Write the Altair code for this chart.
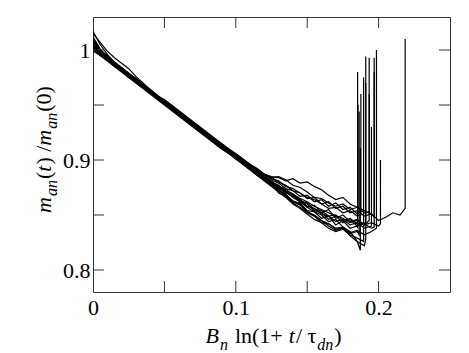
import altair as alt
import pandas as pd

# ---------------- data ----------------
X_GRID = [0.000, 0.005, 0.010, 0.015, 0.020, 0.025, 0.030, 0.035, 0.040, 0.045,
          0.050, 0.055, 0.060, 0.065, 0.070, 0.075, 0.080, 0.085, 0.090, 0.095,
          0.100, 0.105, 0.110, 0.115, 0.120, 0.125, 0.130, 0.135, 0.140, 0.145,
          0.150, 0.155, 0.160, 0.165, 0.170, 0.175, 0.180, 0.185, 0.190, 0.195,
          0.200, 0.205, 0.210, 0.215]

LINE_1 = [1.004, 0.998, 0.993, 0.986, 0.983, 0.976, 0.973, 0.966, 0.963, 0.956,
          0.953, 0.946, 0.943, 0.936, 0.933, 0.926, 0.923, 0.916, 0.913, 0.907,
          0.904, 0.897, 0.894, 0.888, 0.885, 0.878, 0.873, 0.869, 0.862, 0.861,
          0.854, 0.853, 0.847, 0.849, 0.841, 0.845, 0.838, 0.840]
LINE_2 = [1.000, 0.996, 0.991, 0.987, 0.981, 0.978, 0.971, 0.968, 0.961, 0.958,
          0.951, 0.948, 0.941, 0.938, 0.931, 0.928, 0.921, 0.918, 0.911, 0.909,
          0.902, 0.899, 0.892, 0.890, 0.883, 0.879, 0.870, 0.867, 0.861, 0.857,
          0.852, 0.849, 0.843, 0.842, 0.837, 0.838, 0.833, 0.835]
LINE_3 = [1.008, 0.999, 0.993, 0.988, 0.982, 0.977, 0.973, 0.967, 0.962, 0.958,
          0.952, 0.947, 0.943, 0.937, 0.932, 0.928, 0.922, 0.917, 0.913, 0.908,
          0.903, 0.898, 0.894, 0.889, 0.884, 0.880, 0.874, 0.871, 0.866, 0.862,
          0.857, 0.853, 0.850, 0.844, 0.846, 0.839, 0.835, 0.826]
LINE_4 = [1.012, 1.001, 0.994, 0.988, 0.983, 0.977, 0.972, 0.968, 0.962, 0.957,
          0.953, 0.947, 0.942, 0.938, 0.932, 0.927, 0.923, 0.917, 0.912, 0.909,
          0.903, 0.898, 0.894, 0.888, 0.885, 0.881, 0.876, 0.873, 0.869, 0.863,
          0.861, 0.855, 0.854, 0.849, 0.850, 0.845, 0.847, 0.842, 0.843]
LINE_5 = [1.017, 1.005, 0.996, 0.989, 0.983, 0.978, 0.973, 0.968, 0.963, 0.958,
          0.953, 0.948, 0.943, 0.938, 0.933, 0.928, 0.923, 0.918, 0.914, 0.909,
          0.904, 0.900, 0.895, 0.891, 0.887, 0.884, 0.885, 0.882, 0.877, 0.875,
          0.871, 0.866, 0.865, 0.861, 0.858, 0.860, 0.855, 0.857, 0.852]
LINE_6 = [1.002, 0.996, 0.992, 0.986, 0.982, 0.976, 0.972, 0.966, 0.962, 0.957,
          0.951, 0.947, 0.941, 0.937, 0.931, 0.927, 0.921, 0.917, 0.911, 0.907,
          0.902, 0.897, 0.893, 0.888, 0.883, 0.879, 0.875, 0.870, 0.868, 0.862,
          0.860, 0.854, 0.852, 0.846, 0.849, 0.843, 0.846, 0.840, 0.842, 0.838]
LINE_7 = [1.005, 0.998, 0.991, 0.987, 0.981, 0.976, 0.971, 0.967, 0.961, 0.956,
          0.951, 0.946, 0.941, 0.936, 0.931, 0.926, 0.921, 0.916, 0.911, 0.906,
          0.902, 0.897, 0.892, 0.887, 0.882, 0.878, 0.873, 0.868, 0.863, 0.860,
          0.853, 0.850, 0.845, 0.842, 0.838, 0.839, 0.834, 0.836, 0.832, 0.835]
LINE_8 = [1.001, 0.997, 0.991, 0.988, 0.981, 0.978, 0.972, 0.968, 0.962, 0.958,
          0.952, 0.948, 0.942, 0.938, 0.932, 0.928, 0.922, 0.918, 0.913, 0.908,
          0.904, 0.899, 0.894, 0.890, 0.885, 0.880, 0.877, 0.872, 0.869, 0.865,
          0.862, 0.858, 0.855, 0.852, 0.849, 0.847, 0.843, 0.845, 0.841, 0.843,
          0.840]
LINE_9 = [1.003, 0.997, 0.993, 0.986, 0.983, 0.977, 0.974, 0.967, 0.964, 0.958,
          0.955, 0.950, 0.945, 0.940, 0.935, 0.930, 0.925, 0.920, 0.915, 0.910,
          0.906, 0.901, 0.896, 0.892, 0.887, 0.885, 0.884, 0.881, 0.883, 0.879,
          0.880, 0.876, 0.873, 0.868, 0.864, 0.866, 0.860, 0.857, 0.854, 0.851,
          0.845, 0.848, 0.852, 0.850]
LINE_10 = [1.010, 1.000, 0.994, 0.989, 0.984, 0.979, 0.974, 0.969, 0.964, 0.959,
           0.954, 0.949, 0.944, 0.939, 0.934, 0.929, 0.924, 0.919, 0.914, 0.910,
           0.905, 0.900, 0.895, 0.891, 0.887, 0.883, 0.881, 0.876, 0.874, 0.870,
           0.866, 0.864, 0.860, 0.856, 0.857, 0.852, 0.854, 0.849]
LINE_11 = [0.999, 0.995, 0.990, 0.985, 0.980, 0.975, 0.970, 0.965, 0.960, 0.955,
           0.950, 0.945, 0.940, 0.935, 0.930, 0.925, 0.920, 0.915, 0.910, 0.906,
           0.901, 0.896, 0.891, 0.886, 0.881, 0.876, 0.871, 0.866, 0.860, 0.856,
           0.851, 0.846, 0.843, 0.838, 0.835, 0.837, 0.832, 0.829]
LINE_12 = [1.015, 1.007, 0.999, 0.993, 0.988, 0.983, 0.976, 0.970, 0.964, 0.958,
           0.953, 0.948, 0.943, 0.938, 0.933, 0.928, 0.923, 0.918, 0.913, 0.908,
           0.903, 0.898, 0.893, 0.888, 0.884, 0.879, 0.875, 0.871, 0.867, 0.864,
           0.858, 0.856, 0.851, 0.849, 0.844, 0.846, 0.841, 0.843, 0.838]
LINE_13 = [1.006, 0.999, 0.994, 0.987, 0.983, 0.977, 0.973, 0.967, 0.963, 0.957,
           0.953, 0.947, 0.943, 0.937, 0.933, 0.927, 0.923, 0.918, 0.913, 0.909,
           0.904, 0.899, 0.895, 0.890, 0.886, 0.882, 0.879, 0.874, 0.872, 0.867,
           0.868, 0.862, 0.864, 0.858, 0.861, 0.855, 0.857, 0.851]
LINE_14 = [1.001, 0.995, 0.991, 0.985, 0.981, 0.975, 0.971, 0.966, 0.961, 0.956,
           0.951, 0.946, 0.941, 0.936, 0.931, 0.926, 0.921, 0.916, 0.911, 0.907,
           0.901, 0.897, 0.892, 0.886, 0.882, 0.877, 0.872, 0.868, 0.862, 0.859,
           0.853, 0.849, 0.845, 0.840, 0.836, 0.838, 0.831, 0.826, 0.822]
LINE_15 = [1.003, 0.996, 0.993, 0.986, 0.982, 0.977, 0.971, 0.967, 0.963, 0.956,
           0.952, 0.947, 0.942, 0.936, 0.932, 0.927, 0.922, 0.917, 0.912, 0.908,
           0.903, 0.899, 0.893, 0.889, 0.884, 0.879, 0.876, 0.871, 0.867, 0.864,
           0.857, 0.859, 0.852, 0.855, 0.847, 0.850, 0.844, 0.846, 0.841]
LINE_16 = [1.009, 1.000, 0.995, 0.988, 0.984, 0.978, 0.974, 0.968, 0.964, 0.958,
           0.954, 0.948, 0.944, 0.938, 0.934, 0.929, 0.924, 0.919, 0.915, 0.910,
           0.905, 0.901, 0.896, 0.892, 0.887, 0.884, 0.880, 0.877, 0.872, 0.870,
           0.865, 0.866, 0.860, 0.862, 0.856, 0.858, 0.852, 0.854, 0.849, 0.851]

LINES = [LINE_1, LINE_2, LINE_3, LINE_4, LINE_5, LINE_6, LINE_7, LINE_8,
         LINE_9, LINE_10, LINE_11, LINE_12, LINE_13, LINE_14, LINE_15, LINE_16]
END_X = [0.1853, 0.1864, 0.1872, 0.1910, 0.1934, 0.1969, 0.1985, 0.2013,
         0.2186, 0.1876, 0.1895, 0.1950, 0.1856, 0.1910, 0.1934, 0.1969]
END_Y = [0.838, 0.832, 0.818, 0.841, 0.853, 0.839, 0.838, 0.842,
         0.856, 0.850, 0.826, 0.840, 0.850, 0.828, 0.845, 0.848]
SPIKE_TOP = [0.980, 0.944, 0.911, 0.994, 0.993, 0.993, 1.000, 0.900,
             1.010, 0.960, 0.975, 0.930, 0.950, 0.970, 0.960, 0.980]

X_LABELS = [0, 0.1, 0.2]
Y_LABELS = [0.8, 0.9, 1.0]
X_TICKS = [0.05, 0.10, 0.15, 0.20]
Y_TICKS = [0.80, 0.85, 0.90, 0.95, 1.00]

# ---------------- table ----------------
rows = []
for k, ys in enumerate(LINES):
    n = 0
    for i, yv in enumerate(ys):
        rows.append({"line": k, "i": n, "x": X_GRID[i], "y": yv}); n += 1
    rows.append({"line": k, "i": n, "x": END_X[k], "y": END_Y[k]}); n += 1
    rows.append({"line": k, "i": n, "x": END_X[k], "y": SPIKE_TOP[k]})
df = pd.DataFrame(rows)

W, H = 357, 275
FRAME = "#333333"
FONT = "Liberation Serif"

xs = alt.Scale(domain=[0, 0.25], nice=False, zero=False)
ys_ = alt.Scale(domain=[0.78, 1.03], nice=False, zero=False)

XAX = alt.Axis(values=X_LABELS, format="~g", title=None, domain=False, ticks=False,
               grid=False, labelFlush=False, labelFont=FONT, labelFontSize=22,
               labelColor="black", labelPadding=5)
YAX = alt.Axis(values=Y_LABELS, format="~g", title=None, domain=False, ticks=False,
               grid=False, labelFont=FONT, labelFontSize=22, labelColor="black",
               labelPadding=3)

lines = alt.Chart(df).mark_line(color="black", strokeWidth=1.2, clip=True).encode(
    x=alt.X("x:Q", scale=xs, axis=XAX),
    y=alt.Y("y:Q", scale=ys_, axis=YAX),
    detail="line:N",
    order="i:Q",
)

tx = pd.DataFrame({"x": X_TICKS})
ty = pd.DataFrame({"y": Y_TICKS})
TL = 11
tick_layers = [
    alt.Chart(tx).mark_rule(color=FRAME, strokeWidth=1).encode(
        x=alt.X("x:Q", scale=xs, axis=XAX), y=alt.value(H), y2=alt.value(H - TL)),
    alt.Chart(tx).mark_rule(color=FRAME, strokeWidth=1).encode(
        x=alt.X("x:Q", scale=xs, axis=XAX), y=alt.value(0), y2=alt.value(TL)),
    alt.Chart(ty).mark_rule(color=FRAME, strokeWidth=1).encode(
        y=alt.Y("y:Q", scale=ys_, axis=YAX), x=alt.value(0), x2=alt.value(TL)),
    alt.Chart(ty).mark_rule(color=FRAME, strokeWidth=1).encode(
        y=alt.Y("y:Q", scale=ys_, axis=YAX), x=alt.value(W), x2=alt.value(W - TL)),
]

# ---------------- rich-text titles ----------------
EM = {
    False: {" ": 0.25, "l": 0.278, "n": 0.5, "(": 0.333, ")": 0.333, "1": 0.5,
            "+": 0.564, "/": 0.278, "0": 0.5, "τ": 0.44},
    True: {"B": 0.611, "n": 0.5, "t": 0.278, "m": 0.722, "a": 0.5, "d": 0.5},
}


def width(s, it, size):
    return sum(EM[it][c] for c in s) * size


XT = [("B", True, 22, 0, 1), ("n", True, 16, 7, 7), ("ln(1+", False, 22, 0, 6),
      ("t", True, 22, 0, 1), ("/ τ", False, 22, 0, 0), ("dn", True, 16, 7, 1),
      (")", False, 22, 0, 0)]
YT = [("m", True, 22, 0, 1), ("an", True, 16, 6, 1), ("(", False, 22, 0, 0),
      ("t", True, 22, 0, 1), (") /", False, 22, 0, 0), ("m", True, 22, 0, 1),
      ("an", True, 16, 6, 1), ("(0)", False, 22, 0, 0)]

title_layers = []
total = sum(width(s, it, sz) + g for s, it, sz, _, g in XT)
cx = W / 2 + 2 - total / 2
for s, it, sz, sh, g in XT:
    title_layers.append(
        alt.Chart(pd.DataFrame({"t": [s]})).mark_text(
            font=FONT, fontSize=sz, fontStyle="italic" if it else "normal",
            align="left", baseline="alphabetic", color="black").encode(
            text="t:N", x=alt.value(cx), y=alt.value(H + 51 + sh)))
    cx += width(s, it, sz) + g

total = sum(width(s, it, sz) + g for s, it, sz, _, g in YT)
cy = H / 2 - 5 + total / 2
for s, it, sz, sh, g in YT:
    title_layers.append(
        alt.Chart(pd.DataFrame({"t": [s]})).mark_text(
            font=FONT, fontSize=sz, fontStyle="italic" if it else "normal",
            align="left", baseline="alphabetic", angle=270, color="black").encode(
            text="t:N", x=alt.value(-42 + sh), y=alt.value(cy)))
    cy -= width(s, it, sz) + g

chart = alt.layer(lines, *tick_layers, *title_layers).properties(
    width=W, height=H,
    padding={"left": 85, "top": 9, "right": 11, "bottom": 61},
    autosize=alt.AutoSizeParams(type="none"),
    background="white",
).configure_view(stroke=FRAME, strokeWidth=1)

chart.save("out.html", embed_options={"renderer": "svg", "actions": False})
